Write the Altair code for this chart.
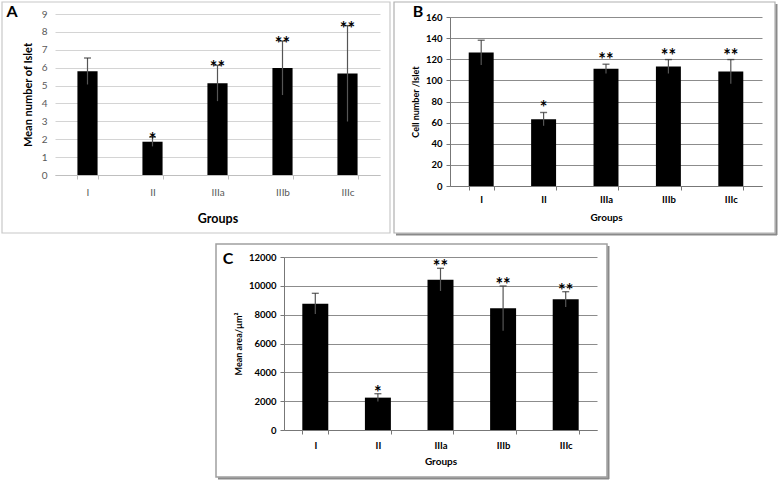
import altair as alt
import pandas as pd

# ---------------- data ----------------
groups = ["I", "II", "IIIa", "IIIb", "IIIc"]
stars = ["", "*", "**", "**", "**"]

a_mean = [5.80, 1.86, 5.13, 5.98, 5.67]
a_err = [0.74, 0.26, 1.00, 1.51, 2.68]

b_mean = [126.3, 63.3, 110.9, 113.1, 108.3]
b_err = [11.7, 6.3, 4.4, 6.6, 11.4]

c_mean = [8760, 2245, 10430, 8440, 9065]
c_err = [720, 275, 785, 1550, 530]

a_ticks = [0, 1, 2, 3, 4, 5, 6, 7, 8, 9]
b_ticks = [0, 20, 40, 60, 80, 100, 120, 140, 160]
c_ticks = [0, 2000, 4000, 6000, 8000, 10000, 12000]

W, H = 778, 481
FONT = "Lato"
one = pd.DataFrame({"k": [0]})


def frame(x0, x1, y0, y1, color, sw, shadow=None):
    layers = [
        alt.Chart(one).mark_rect(fillOpacity=0, stroke=color, strokeWidth=sw).encode(
            x=alt.value(x0), x2=alt.value(x1), y=alt.value(y0), y2=alt.value(y1))
    ]
    if shadow:
        layers.append(alt.Chart(one).mark_rule(color=shadow, strokeWidth=2).encode(
            x=alt.value(x0 + 2), x2=alt.value(x1 + 2), y=alt.value(y1 + 1.5)))
        layers.append(alt.Chart(one).mark_rule(color=shadow, strokeWidth=2).encode(
            x=alt.value(x1 + 1.5), y=alt.value(y0 + 2), y2=alt.value(y1 + 2)))
    return layers


def letter(txt, x, y):
    return alt.Chart(one).mark_text(text=txt, font=FONT, fontWeight="bold", fontSize=16,
                                    color="black", align="center", baseline="middle").encode(
        x=alt.value(x), y=alt.value(y))


def panel(mean, err, ymax, ticks, px0, px1, py0, py1, pi, ytitle, st):
    df = pd.DataFrame({
        "group": groups,
        "mean": mean,
        "lo": [m - e for m, e in zip(mean, err)],
        "hi": [m + e for m, e in zip(mean, err)],
        "star": stars,
    })
    xs = alt.Scale(domain=groups, range=[px0, px1], paddingInner=pi, paddingOuter=pi / 2)
    ys = alt.Scale(domain=[0, ymax], range=[py1, py0], nice=False, zero=True)
    xaxis = alt.Axis(orient="bottom", offset=py1 - H, grid=False, labelAngle=0,
                     tickBand="extent", tickSize=4, tickColor=st["axis"], domainColor=st["axis"],
                     labelFont=FONT, labelFontSize=st["xlab"], labelFontWeight=st["lw"],
                     labelColor=st["lc"], labelPadding=st["xpad"],
                     title="Groups", titleFont=FONT, titleFontSize=st["xt"], titleFontWeight="bold",
                     titleColor="black", titleY=st["xty"], titleBaseline="middle")
    yaxis = alt.Axis(orient="left", offset=-px0, values=ticks, format="d", grid=True,
                     gridColor=st["grid"], gridWidth=1, domain=st["ydom"], domainColor=st["axis"],
                     ticks=st["ydom"], tickSize=4, tickColor=st["axis"],
                     labelFont=FONT, labelFontSize=st["ylab"], labelFontWeight=st["lw"],
                     labelColor=st["lc"], labelPadding=st["ypad"],
                     title=ytitle, titleFont=FONT, titleFontSize=st["yt"], titleFontWeight="bold",
                     titleColor="black", titleX=st["ytx"], titleBaseline="middle", titleAlign="center")
    base = alt.Chart(df)
    xenc = alt.X("group:N", sort=groups, scale=xs, axis=xaxis)
    bars = base.mark_bar(color="black").encode(
        x=xenc,
        y=alt.Y("mean:Q", scale=ys, axis=yaxis),
    )
    rule = base.mark_rule(color="#555555", strokeWidth=1.2).encode(
        x=xenc,
        y=alt.Y("lo:Q", scale=ys, axis=yaxis),
        y2="hi:Q",
    )
    cap = base.mark_tick(color="#333333", orient="horizontal", size=7, thickness=1.4).encode(
        x=xenc,
        y=alt.Y("hi:Q", scale=ys, axis=yaxis),
    )
    txt = base.mark_text(font=FONT, fontWeight="bold", fontSize=st["star"], color="black",
                         baseline="alphabetic", dy=st["sdy"]).encode(
        x=xenc,
        y=alt.Y("hi:Q", scale=ys, axis=yaxis),
        text="star:N",
    )
    return [bars, rule, cap, txt]


stA = dict(axis="#bfbfbf", xlab=10, lw="normal", lc="#595959", xpad=8, xt=12.5, xty=43,
           grid="#d4d4d4", ydom=False, ylab=10, ypad=8, yt=11, ytx=-27, star=18, sdy=9)
stB = dict(axis="#777777", xlab=9.5, lw="bold", lc="black", xpad=4.5, xt=10, xty=31,
           grid="#8c8c8c", ydom=True, ylab=9.5, ypad=4, yt=9, ytx=-35, star=18, sdy=2)
stC = dict(axis="#777777", xlab=9.5, lw="bold", lc="black", xpad=6.5, xt=10, xty=31,
           grid="#8c8c8c", ydom=True, ylab=9.5, ypad=4, yt=9, ytx=-46, star=18, sdy=5)

pA = alt.layer(*frame(2, 390, 2, 233, "#c8c8c8", 1.2), letter("A", 12, 12),
               *panel(a_mean, a_err, 9, a_ticks, 55, 380, 14, 175, 0.69, "Mean number of Islet", stA))
pB = alt.layer(*frame(394, 775, 2, 233, "#b0b0b0", 1.2, shadow="#8a8a8a"), letter("B", 418, 12),
               *panel(b_mean, b_err, 160, b_ticks, 450, 762, 17, 186, 0.6, "Cell number /Islet", stB))
pC = alt.layer(*frame(216, 607, 244, 477, "#a0a0a0", 1.5, shadow="#8a8a8a"), letter("C", 228, 259),
               *panel(c_mean, c_err, 12000, c_ticks, 284, 597, 257, 430, 0.585, "Mean area/µm²", stC))

chart = alt.layer(pA, pB, pC).resolve_scale(
    x="independent", y="independent"
).resolve_axis(
    x="independent", y="independent"
).properties(
    width=W, height=H, autosize=alt.AutoSizeParams(type="none"), padding=0, background="white"
).configure_view(stroke=None)

chart.save("out.html", embed_options={"renderer": "svg", "actions": False})
